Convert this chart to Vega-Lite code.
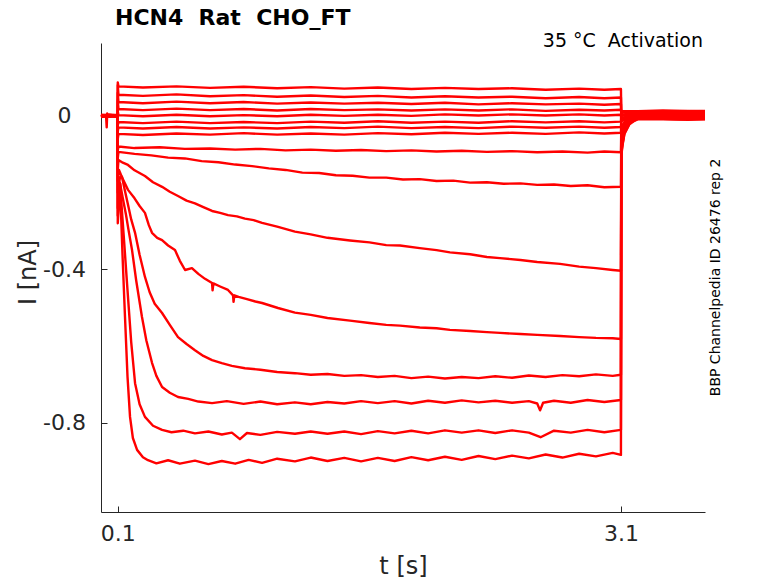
{
  "$schema": "https://vega.github.io/schema/vega-lite/v6.json",
  "width": 604,
  "height": 469,
  "autosize": "none",
  "padding": {"left": 101, "top": 43, "right": 73, "bottom": 71},
  "background": "white",
  "config": {"view": {"stroke": null}, "font": "DejaVu Sans"},
  "layer": [
    {
      "data": {"values": [
        {"k":1,"t":0,"i":0.003},{"k":1,"t":0.05,"i":0.002},{"k":1,"t":0.0995,"i":0.003},{"k":1,"t":0.1,"i":0.087},{"k":1,"t":0.104,"i":0.077},{"k":1,"t":0.25,"i":0.074},{"k":1,"t":0.45,"i":0.077},{"k":1,"t":0.65,"i":0.073},{"k":1,"t":0.85,"i":0.076},{"k":1,"t":1.05,"i":0.072},{"k":1,"t":1.25,"i":0.075},{"k":1,"t":1.45,"i":0.071},{"k":1,"t":1.65,"i":0.074},{"k":1,"t":1.85,"i":0.070},{"k":1,"t":2.05,"i":0.073},{"k":1,"t":2.25,"i":0.070},{"k":1,"t":2.45,"i":0.072},{"k":1,"t":2.65,"i":0.068},{"k":1,"t":2.85,"i":0.071},{"k":1,"t":3.0,"i":0.068},{"k":1,"t":3.099,"i":0.070},{"k":1,"t":3.101,"i":0.004},{"k":1,"t":3.2,"i":0.006},{"k":1,"t":3.35,"i":0.003},{"k":1,"t":3.5,"i":0.005},{"k":1,"t":3.6,"i":0.004},

        {"k":2,"t":0,"i":-0.002},{"k":2,"t":0.05,"i":0.001},{"k":2,"t":0.0995,"i":-0.001},{"k":2,"t":0.1,"i":0.08},{"k":2,"t":0.104,"i":0.055},{"k":2,"t":0.25,"i":0.052},{"k":2,"t":0.45,"i":0.056},{"k":2,"t":0.65,"i":0.051},{"k":2,"t":0.85,"i":0.054},{"k":2,"t":1.05,"i":0.050},{"k":2,"t":1.25,"i":0.053},{"k":2,"t":1.45,"i":0.049},{"k":2,"t":1.65,"i":0.052},{"k":2,"t":1.85,"i":0.048},{"k":2,"t":2.05,"i":0.051},{"k":2,"t":2.25,"i":0.048},{"k":2,"t":2.45,"i":0.050},{"k":2,"t":2.65,"i":0.046},{"k":2,"t":2.85,"i":0.049},{"k":2,"t":3.0,"i":0.046},{"k":2,"t":3.099,"i":0.048},{"k":2,"t":3.101,"i":0.001},{"k":2,"t":3.2,"i":0.002},{"k":2,"t":3.35,"i":0.0},{"k":2,"t":3.5,"i":0.002},{"k":2,"t":3.6,"i":0.001},

        {"k":3,"t":0,"i":0.001},{"k":3,"t":0.05,"i":-0.002},{"k":3,"t":0.0995,"i":0.0},{"k":3,"t":0.1,"i":0.06},{"k":3,"t":0.104,"i":0.036},{"k":3,"t":0.25,"i":0.033},{"k":3,"t":0.45,"i":0.037},{"k":3,"t":0.65,"i":0.033},{"k":3,"t":0.85,"i":0.036},{"k":3,"t":1.05,"i":0.032},{"k":3,"t":1.25,"i":0.035},{"k":3,"t":1.45,"i":0.032},{"k":3,"t":1.65,"i":0.034},{"k":3,"t":1.85,"i":0.031},{"k":3,"t":2.05,"i":0.034},{"k":3,"t":2.25,"i":0.030},{"k":3,"t":2.45,"i":0.033},{"k":3,"t":2.65,"i":0.030},{"k":3,"t":2.85,"i":0.032},{"k":3,"t":3.0,"i":0.029},{"k":3,"t":3.099,"i":0.031},{"k":3,"t":3.101,"i":-0.004},{"k":3,"t":3.2,"i":-0.002},{"k":3,"t":3.35,"i":-0.004},{"k":3,"t":3.5,"i":-0.001},{"k":3,"t":3.6,"i":-0.003},

        {"k":4,"t":0,"i":0.0},{"k":4,"t":0.05,"i":0.003},{"k":4,"t":0.0995,"i":0.001},{"k":4,"t":0.1,"i":0.04},{"k":4,"t":0.104,"i":0.018},{"k":4,"t":0.25,"i":0.015},{"k":4,"t":0.45,"i":0.019},{"k":4,"t":0.65,"i":0.015},{"k":4,"t":0.85,"i":0.018},{"k":4,"t":1.05,"i":0.014},{"k":4,"t":1.25,"i":0.018},{"k":4,"t":1.45,"i":0.015},{"k":4,"t":1.65,"i":0.017},{"k":4,"t":1.85,"i":0.014},{"k":4,"t":2.05,"i":0.017},{"k":4,"t":2.25,"i":0.014},{"k":4,"t":2.45,"i":0.017},{"k":4,"t":2.65,"i":0.013},{"k":4,"t":2.85,"i":0.016},{"k":4,"t":3.0,"i":0.014},{"k":4,"t":3.099,"i":0.016},{"k":4,"t":3.101,"i":0.009},{"k":4,"t":3.2,"i":0.010},{"k":4,"t":3.35,"i":0.008},{"k":4,"t":3.5,"i":0.011},{"k":4,"t":3.6,"i":0.009},

        {"k":5,"t":0,"i":-0.001},{"k":5,"t":0.03,"i":0.001},{"k":5,"t":0.034,"i":-0.03},{"k":5,"t":0.037,"i":0.006},{"k":5,"t":0.041,"i":0.0},{"k":5,"t":0.0995,"i":-0.002},{"k":5,"t":0.1,"i":0.012},{"k":5,"t":0.104,"i":0.002},{"k":5,"t":0.25,"i":-0.001},{"k":5,"t":0.45,"i":0.003},{"k":5,"t":0.65,"i":-0.001},{"k":5,"t":0.85,"i":0.002},{"k":5,"t":1.05,"i":-0.001},{"k":5,"t":1.25,"i":0.003},{"k":5,"t":1.45,"i":0.0},{"k":5,"t":1.65,"i":0.003},{"k":5,"t":1.85,"i":0.0},{"k":5,"t":2.05,"i":0.004},{"k":5,"t":2.25,"i":0.001},{"k":5,"t":2.45,"i":0.004},{"k":5,"t":2.65,"i":0.001},{"k":5,"t":2.85,"i":0.004},{"k":5,"t":3.0,"i":0.001},{"k":5,"t":3.099,"i":0.003},{"k":5,"t":3.101,"i":-0.006},{"k":5,"t":3.2,"i":-0.004},{"k":5,"t":3.35,"i":-0.006},{"k":5,"t":3.5,"i":-0.003},{"k":5,"t":3.6,"i":-0.005},

        {"k":6,"t":0,"i":0.002},{"k":6,"t":0.05,"i":-0.001},{"k":6,"t":0.0995,"i":0.001},{"k":6,"t":0.1,"i":-0.025},{"k":6,"t":0.104,"i":-0.016},{"k":6,"t":0.25,"i":-0.019},{"k":6,"t":0.45,"i":-0.015},{"k":6,"t":0.65,"i":-0.019},{"k":6,"t":0.85,"i":-0.016},{"k":6,"t":1.05,"i":-0.019},{"k":6,"t":1.25,"i":-0.015},{"k":6,"t":1.45,"i":-0.018},{"k":6,"t":1.65,"i":-0.014},{"k":6,"t":1.85,"i":-0.018},{"k":6,"t":2.05,"i":-0.015},{"k":6,"t":2.25,"i":-0.018},{"k":6,"t":2.45,"i":-0.014},{"k":6,"t":2.65,"i":-0.017},{"k":6,"t":2.85,"i":-0.014},{"k":6,"t":3.0,"i":-0.017},{"k":6,"t":3.099,"i":-0.015},{"k":6,"t":3.101,"i":0.012},{"k":6,"t":3.2,"i":0.012},{"k":6,"t":3.35,"i":0.014},{"k":6,"t":3.5,"i":0.012},{"k":6,"t":3.6,"i":0.013},

        {"k":7,"t":0,"i":-0.003},{"k":7,"t":0.05,"i":0.0},{"k":7,"t":0.0995,"i":-0.002},{"k":7,"t":0.1,"i":-0.04},{"k":7,"t":0.104,"i":-0.030},{"k":7,"t":0.25,"i":-0.033},{"k":7,"t":0.45,"i":-0.029},{"k":7,"t":0.65,"i":-0.033},{"k":7,"t":0.85,"i":-0.030},{"k":7,"t":1.05,"i":-0.033},{"k":7,"t":1.25,"i":-0.029},{"k":7,"t":1.45,"i":-0.032},{"k":7,"t":1.65,"i":-0.028},{"k":7,"t":1.85,"i":-0.032},{"k":7,"t":2.05,"i":-0.029},{"k":7,"t":2.25,"i":-0.032},{"k":7,"t":2.45,"i":-0.028},{"k":7,"t":2.65,"i":-0.031},{"k":7,"t":2.85,"i":-0.028},{"k":7,"t":3.0,"i":-0.031},{"k":7,"t":3.099,"i":-0.029},{"k":7,"t":3.101,"i":-0.012},{"k":7,"t":3.14,"i":-0.008},{"k":7,"t":3.3,"i":-0.007},{"k":7,"t":3.45,"i":-0.009},{"k":7,"t":3.6,"i":-0.008},

        {"k":8,"t":0,"i":0.001},{"k":8,"t":0.05,"i":0.003},{"k":8,"t":0.0995,"i":0.0},{"k":8,"t":0.1,"i":-0.06},{"k":8,"t":0.104,"i":-0.047},{"k":8,"t":0.25,"i":-0.050},{"k":8,"t":0.45,"i":-0.046},{"k":8,"t":0.65,"i":-0.049},{"k":8,"t":0.85,"i":-0.045},{"k":8,"t":1.05,"i":-0.049},{"k":8,"t":1.25,"i":-0.046},{"k":8,"t":1.45,"i":-0.049},{"k":8,"t":1.65,"i":-0.045},{"k":8,"t":1.85,"i":-0.048},{"k":8,"t":2.05,"i":-0.044},{"k":8,"t":2.25,"i":-0.047},{"k":8,"t":2.45,"i":-0.044},{"k":8,"t":2.65,"i":-0.047},{"k":8,"t":2.85,"i":-0.043},{"k":8,"t":3.0,"i":-0.046},{"k":8,"t":3.099,"i":-0.044},{"k":8,"t":3.101,"i":-0.015},{"k":8,"t":3.14,"i":0.004},{"k":8,"t":3.3,"i":0.006},{"k":8,"t":3.45,"i":0.005},{"k":8,"t":3.6,"i":0.006},

        {"k":9,"t":0,"i":-0.001},{"k":9,"t":0.05,"i":0.001},{"k":9,"t":0.0995,"i":-0.001},{"k":9,"t":0.1,"i":-0.09},{"k":9,"t":0.104,"i":-0.080},{"k":9,"t":0.2,"i":-0.084},{"k":9,"t":0.35,"i":-0.082},{"k":9,"t":0.5,"i":-0.086},{"k":9,"t":0.65,"i":-0.085},{"k":9,"t":0.8,"i":-0.088},{"k":9,"t":0.95,"i":-0.086},{"k":9,"t":1.1,"i":-0.090},{"k":9,"t":1.25,"i":-0.088},{"k":9,"t":1.4,"i":-0.091},{"k":9,"t":1.55,"i":-0.089},{"k":9,"t":1.7,"i":-0.092},{"k":9,"t":1.85,"i":-0.090},{"k":9,"t":2.0,"i":-0.093},{"k":9,"t":2.15,"i":-0.091},{"k":9,"t":2.3,"i":-0.094},{"k":9,"t":2.45,"i":-0.092},{"k":9,"t":2.6,"i":-0.095},{"k":9,"t":2.75,"i":-0.093},{"k":9,"t":2.9,"i":-0.096},{"k":9,"t":3.0,"i":-0.093},{"k":9,"t":3.099,"i":-0.095},{"k":9,"t":3.101,"i":-0.03},{"k":9,"t":3.13,"i":-0.008},{"k":9,"t":3.2,"i":-0.003},{"k":9,"t":3.4,"i":-0.002},{"k":9,"t":3.6,"i":-0.002},

        {"k":10,"t":0,"i":0.002},{"k":10,"t":0.05,"i":-0.001},{"k":10,"t":0.0995,"i":0.001},{"k":10,"t":0.1,"i":-0.11},{"k":10,"t":0.104,"i":-0.094},{"k":10,"t":0.2,"i":-0.099},{"k":10,"t":0.3,"i":-0.103},{"k":10,"t":0.4,"i":-0.109},{"k":10,"t":0.5,"i":-0.111},{"k":10,"t":0.6,"i":-0.118},{"k":10,"t":0.7,"i":-0.121},{"k":10,"t":0.8,"i":-0.127},{"k":10,"t":0.9,"i":-0.131},{"k":10,"t":1.0,"i":-0.137},{"k":10,"t":1.1,"i":-0.141},{"k":10,"t":1.2,"i":-0.148},{"k":10,"t":1.3,"i":-0.149},{"k":10,"t":1.4,"i":-0.155},{"k":10,"t":1.5,"i":-0.156},{"k":10,"t":1.6,"i":-0.161},{"k":10,"t":1.7,"i":-0.161},{"k":10,"t":1.8,"i":-0.166},{"k":10,"t":1.9,"i":-0.165},{"k":10,"t":2.0,"i":-0.170},{"k":10,"t":2.1,"i":-0.169},{"k":10,"t":2.2,"i":-0.174},{"k":10,"t":2.3,"i":-0.173},{"k":10,"t":2.4,"i":-0.177},{"k":10,"t":2.5,"i":-0.176},{"k":10,"t":2.6,"i":-0.180},{"k":10,"t":2.7,"i":-0.179},{"k":10,"t":2.8,"i":-0.183},{"k":10,"t":2.9,"i":-0.181},{"k":10,"t":3.0,"i":-0.186},{"k":10,"t":3.099,"i":-0.185},{"k":10,"t":3.101,"i":-0.045},{"k":10,"t":3.12,"i":-0.02},{"k":10,"t":3.16,"i":0.004},{"k":10,"t":3.25,"i":0.009},{"k":10,"t":3.4,"i":0.010},{"k":10,"t":3.6,"i":0.010},

        {"k":11,"t":0,"i":0.0},{"k":11,"t":0.05,"i":0.002},{"k":11,"t":0.0995,"i":0.0},{"k":11,"t":0.1,"i":-0.14},{"k":11,"t":0.104,"i":-0.115},{"k":11,"t":0.13,"i":-0.122},{"k":11,"t":0.161,"i":-0.128},{"k":11,"t":0.2,"i":-0.142},{"k":11,"t":0.262,"i":-0.157},{"k":11,"t":0.31,"i":-0.173},{"k":11,"t":0.364,"i":-0.185},{"k":11,"t":0.41,"i":-0.198},{"k":11,"t":0.459,"i":-0.209},{"k":11,"t":0.51,"i":-0.221},{"k":11,"t":0.56,"i":-0.228},{"k":11,"t":0.61,"i":-0.238},{"k":11,"t":0.662,"i":-0.248},{"k":11,"t":0.71,"i":-0.253},{"k":11,"t":0.757,"i":-0.259},{"k":11,"t":0.81,"i":-0.262},{"k":11,"t":0.858,"i":-0.268},{"k":11,"t":0.91,"i":-0.272},{"k":11,"t":0.96,"i":-0.279},{"k":11,"t":1.05,"i":-0.289},{"k":11,"t":1.156,"i":-0.302},{"k":11,"t":1.25,"i":-0.309},{"k":11,"t":1.35,"i":-0.318},{"k":11,"t":1.484,"i":-0.325},{"k":11,"t":1.6,"i":-0.330},{"k":11,"t":1.7,"i":-0.337},{"k":11,"t":1.782,"i":-0.338},{"k":11,"t":1.9,"i":-0.345},{"k":11,"t":2.0,"i":-0.350},{"k":11,"t":2.08,"i":-0.356},{"k":11,"t":2.2,"i":-0.361},{"k":11,"t":2.3,"i":-0.368},{"k":11,"t":2.378,"i":-0.371},{"k":11,"t":2.5,"i":-0.376},{"k":11,"t":2.6,"i":-0.381},{"k":11,"t":2.736,"i":-0.386},{"k":11,"t":2.85,"i":-0.393},{"k":11,"t":2.95,"i":-0.397},{"k":11,"t":3.05,"i":-0.402},{"k":11,"t":3.099,"i":-0.404},{"k":11,"t":3.101,"i":-0.06},{"k":11,"t":3.115,"i":-0.03},{"k":11,"t":3.14,"i":-0.012},{"k":11,"t":3.2,"i":-0.007},{"k":11,"t":3.35,"i":-0.006},{"k":11,"t":3.5,"i":-0.007},{"k":11,"t":3.6,"i":-0.006},

        {"k":12,"t":0,"i":-0.002},{"k":12,"t":0.05,"i":0.0},{"k":12,"t":0.0995,"i":-0.001},{"k":12,"t":0.1,"i":-0.17},{"k":12,"t":0.107,"i":-0.141},{"k":12,"t":0.13,"i":-0.165},{"k":12,"t":0.161,"i":-0.193},{"k":12,"t":0.2,"i":-0.215},{"k":12,"t":0.23,"i":-0.235},{"k":12,"t":0.262,"i":-0.253},{"k":12,"t":0.285,"i":-0.285},{"k":12,"t":0.304,"i":-0.305},{"k":12,"t":0.335,"i":-0.318},{"k":12,"t":0.364,"i":-0.324},{"k":12,"t":0.4,"i":-0.338},{"k":12,"t":0.441,"i":-0.350},{"k":12,"t":0.47,"i":-0.378},{"k":12,"t":0.501,"i":-0.402},{"k":12,"t":0.542,"i":-0.397},{"k":12,"t":0.58,"i":-0.412},{"k":12,"t":0.62,"i":-0.425},{"k":12,"t":0.662,"i":-0.436},{"k":12,"t":0.665,"i":-0.455},{"k":12,"t":0.67,"i":-0.437},{"k":12,"t":0.71,"i":-0.445},{"k":12,"t":0.757,"i":-0.454},{"k":12,"t":0.787,"i":-0.468},{"k":12,"t":0.79,"i":-0.485},{"k":12,"t":0.795,"i":-0.468},{"k":12,"t":0.82,"i":-0.472},{"k":12,"t":0.87,"i":-0.478},{"k":12,"t":0.92,"i":-0.484},{"k":12,"t":0.96,"i":-0.488},{"k":12,"t":1.055,"i":-0.501},{"k":12,"t":1.156,"i":-0.513},{"k":12,"t":1.25,"i":-0.519},{"k":12,"t":1.35,"i":-0.527},{"k":12,"t":1.484,"i":-0.534},{"k":12,"t":1.6,"i":-0.540},{"k":12,"t":1.7,"i":-0.545},{"k":12,"t":1.782,"i":-0.547},{"k":12,"t":1.9,"i":-0.552},{"k":12,"t":2.0,"i":-0.554},{"k":12,"t":2.08,"i":-0.558},{"k":12,"t":2.2,"i":-0.561},{"k":12,"t":2.3,"i":-0.564},{"k":12,"t":2.378,"i":-0.566},{"k":12,"t":2.5,"i":-0.569},{"k":12,"t":2.6,"i":-0.571},{"k":12,"t":2.736,"i":-0.574},{"k":12,"t":2.85,"i":-0.577},{"k":12,"t":2.95,"i":-0.579},{"k":12,"t":3.05,"i":-0.580},{"k":12,"t":3.099,"i":-0.582},{"k":12,"t":3.101,"i":-0.075},{"k":12,"t":3.11,"i":-0.05},{"k":12,"t":3.13,"i":-0.022},{"k":12,"t":3.17,"i":-0.006},{"k":12,"t":3.25,"i":0.002},{"k":12,"t":3.4,"i":0.003},{"k":12,"t":3.6,"i":0.003},

        {"k":13,"t":0,"i":0.001},{"k":13,"t":0.05,"i":-0.002},{"k":13,"t":0.0995,"i":0.0},{"k":13,"t":0.1,"i":-0.2},{"k":13,"t":0.113,"i":-0.16},{"k":13,"t":0.125,"i":-0.159},{"k":13,"t":0.14,"i":-0.19},{"k":13,"t":0.161,"i":-0.232},{"k":13,"t":0.18,"i":-0.27},{"k":13,"t":0.203,"i":-0.305},{"k":13,"t":0.23,"i":-0.362},{"k":13,"t":0.262,"i":-0.420},{"k":13,"t":0.29,"i":-0.46},{"k":13,"t":0.32,"i":-0.49},{"k":13,"t":0.364,"i":-0.514},{"k":13,"t":0.41,"i":-0.545},{"k":13,"t":0.459,"i":-0.577},{"k":13,"t":0.51,"i":-0.595},{"k":13,"t":0.56,"i":-0.611},{"k":13,"t":0.61,"i":-0.626},{"k":13,"t":0.662,"i":-0.637},{"k":13,"t":0.72,"i":-0.645},{"k":13,"t":0.78,"i":-0.652},{"k":13,"t":0.858,"i":-0.658},{"k":13,"t":0.95,"i":-0.662},{"k":13,"t":1.05,"i":-0.668},{"k":13,"t":1.156,"i":-0.671},{"k":13,"t":1.25,"i":-0.675},{"k":13,"t":1.35,"i":-0.673},{"k":13,"t":1.45,"i":-0.678},{"k":13,"t":1.55,"i":-0.676},{"k":13,"t":1.65,"i":-0.681},{"k":13,"t":1.75,"i":-0.678},{"k":13,"t":1.85,"i":-0.684},{"k":13,"t":1.95,"i":-0.680},{"k":13,"t":2.05,"i":-0.685},{"k":13,"t":2.15,"i":-0.681},{"k":13,"t":2.25,"i":-0.684},{"k":13,"t":2.35,"i":-0.679},{"k":13,"t":2.45,"i":-0.683},{"k":13,"t":2.55,"i":-0.677},{"k":13,"t":2.65,"i":-0.681},{"k":13,"t":2.75,"i":-0.676},{"k":13,"t":2.85,"i":-0.679},{"k":13,"t":2.95,"i":-0.674},{"k":13,"t":3.05,"i":-0.678},{"k":13,"t":3.099,"i":-0.675},{"k":13,"t":3.101,"i":-0.085},{"k":13,"t":3.11,"i":-0.055},{"k":13,"t":3.125,"i":-0.03},{"k":13,"t":3.16,"i":-0.005},{"k":13,"t":3.22,"i":0.008},{"k":13,"t":3.35,"i":0.012},{"k":13,"t":3.5,"i":0.013},{"k":13,"t":3.6,"i":0.012},

        {"k":14,"t":0,"i":-0.001},{"k":14,"t":0.05,"i":0.001},{"k":14,"t":0.0995,"i":-0.002},{"k":14,"t":0.1,"i":-0.24},{"k":14,"t":0.113,"i":-0.175},{"k":14,"t":0.13,"i":-0.215},{"k":14,"t":0.149,"i":-0.258},{"k":14,"t":0.165,"i":-0.30},{"k":14,"t":0.185,"i":-0.350},{"k":14,"t":0.21,"i":-0.43},{"k":14,"t":0.244,"i":-0.524},{"k":14,"t":0.27,"i":-0.585},{"k":14,"t":0.304,"i":-0.644},{"k":14,"t":0.33,"i":-0.678},{"k":14,"t":0.364,"i":-0.707},{"k":14,"t":0.41,"i":-0.722},{"k":14,"t":0.459,"i":-0.733},{"k":14,"t":0.52,"i":-0.738},{"k":14,"t":0.58,"i":-0.745},{"k":14,"t":0.662,"i":-0.749},{"k":14,"t":0.75,"i":-0.744},{"k":14,"t":0.85,"i":-0.751},{"k":14,"t":0.95,"i":-0.745},{"k":14,"t":1.05,"i":-0.752},{"k":14,"t":1.156,"i":-0.747},{"k":14,"t":1.25,"i":-0.752},{"k":14,"t":1.35,"i":-0.746},{"k":14,"t":1.45,"i":-0.750},{"k":14,"t":1.55,"i":-0.744},{"k":14,"t":1.65,"i":-0.749},{"k":14,"t":1.75,"i":-0.744},{"k":14,"t":1.85,"i":-0.750},{"k":14,"t":1.95,"i":-0.743},{"k":14,"t":2.05,"i":-0.748},{"k":14,"t":2.15,"i":-0.742},{"k":14,"t":2.25,"i":-0.747},{"k":14,"t":2.35,"i":-0.743},{"k":14,"t":2.45,"i":-0.748},{"k":14,"t":2.55,"i":-0.744},{"k":14,"t":2.6,"i":-0.750},{"k":14,"t":2.617,"i":-0.768},{"k":14,"t":2.635,"i":-0.748},{"k":14,"t":2.7,"i":-0.743},{"k":14,"t":2.8,"i":-0.748},{"k":14,"t":2.9,"i":-0.741},{"k":14,"t":3.0,"i":-0.746},{"k":14,"t":3.099,"i":-0.741},{"k":14,"t":3.101,"i":-0.095},{"k":14,"t":3.108,"i":-0.07},{"k":14,"t":3.12,"i":-0.04},{"k":14,"t":3.15,"i":-0.018},{"k":14,"t":3.2,"i":-0.009},{"k":14,"t":3.35,"i":-0.009},{"k":14,"t":3.5,"i":-0.010},{"k":14,"t":3.6,"i":-0.009},

        {"k":15,"t":0,"i":0.002},{"k":15,"t":0.05,"i":-0.001},{"k":15,"t":0.0995,"i":0.001},{"k":15,"t":0.1,"i":-0.26},{"k":15,"t":0.113,"i":-0.175},{"k":15,"t":0.135,"i":-0.31},{"k":15,"t":0.155,"i":-0.436},{"k":15,"t":0.18,"i":-0.59},{"k":15,"t":0.203,"i":-0.697},{"k":15,"t":0.23,"i":-0.752},{"k":15,"t":0.262,"i":-0.785},{"k":15,"t":0.31,"i":-0.808},{"k":15,"t":0.364,"i":-0.819},{"k":15,"t":0.42,"i":-0.825},{"k":15,"t":0.49,"i":-0.821},{"k":15,"t":0.56,"i":-0.828},{"k":15,"t":0.64,"i":-0.823},{"k":15,"t":0.72,"i":-0.831},{"k":15,"t":0.78,"i":-0.826},{"k":15,"t":0.828,"i":-0.843},{"k":15,"t":0.87,"i":-0.827},{"k":15,"t":0.95,"i":-0.832},{"k":15,"t":1.05,"i":-0.824},{"k":15,"t":1.156,"i":-0.829},{"k":15,"t":1.25,"i":-0.823},{"k":15,"t":1.35,"i":-0.829},{"k":15,"t":1.45,"i":-0.823},{"k":15,"t":1.55,"i":-0.830},{"k":15,"t":1.65,"i":-0.822},{"k":15,"t":1.75,"i":-0.828},{"k":15,"t":1.85,"i":-0.821},{"k":15,"t":1.95,"i":-0.828},{"k":15,"t":2.05,"i":-0.820},{"k":15,"t":2.15,"i":-0.826},{"k":15,"t":2.25,"i":-0.820},{"k":15,"t":2.35,"i":-0.827},{"k":15,"t":2.45,"i":-0.820},{"k":15,"t":2.55,"i":-0.826},{"k":15,"t":2.62,"i":-0.838},{"k":15,"t":2.7,"i":-0.821},{"k":15,"t":2.8,"i":-0.826},{"k":15,"t":2.9,"i":-0.819},{"k":15,"t":3.0,"i":-0.825},{"k":15,"t":3.099,"i":-0.819},{"k":15,"t":3.101,"i":-0.10},{"k":15,"t":3.108,"i":-0.075},{"k":15,"t":3.12,"i":-0.045},{"k":15,"t":3.15,"i":-0.02},{"k":15,"t":3.2,"i":-0.002},{"k":15,"t":3.3,"i":0.006},{"k":15,"t":3.45,"i":0.007},{"k":15,"t":3.6,"i":0.007},

        {"k":16,"t":0,"i":-0.001},{"k":16,"t":0.05,"i":0.002},{"k":16,"t":0.0995,"i":0.0},{"k":16,"t":0.1,"i":-0.28},{"k":16,"t":0.113,"i":-0.175},{"k":16,"t":0.128,"i":-0.36},{"k":16,"t":0.143,"i":-0.524},{"k":16,"t":0.158,"i":-0.68},{"k":16,"t":0.173,"i":-0.785},{"k":16,"t":0.19,"i":-0.84},{"k":16,"t":0.215,"i":-0.871},{"k":16,"t":0.25,"i":-0.89},{"k":16,"t":0.28,"i":-0.898},{"k":16,"t":0.33,"i":-0.906},{"k":16,"t":0.4,"i":-0.898},{"k":16,"t":0.47,"i":-0.907},{"k":16,"t":0.56,"i":-0.899},{"k":16,"t":0.64,"i":-0.908},{"k":16,"t":0.72,"i":-0.900},{"k":16,"t":0.8,"i":-0.907},{"k":16,"t":0.88,"i":-0.897},{"k":16,"t":0.96,"i":-0.905},{"k":16,"t":1.05,"i":-0.894},{"k":16,"t":1.156,"i":-0.901},{"k":16,"t":1.25,"i":-0.891},{"k":16,"t":1.35,"i":-0.900},{"k":16,"t":1.45,"i":-0.892},{"k":16,"t":1.55,"i":-0.901},{"k":16,"t":1.65,"i":-0.892},{"k":16,"t":1.75,"i":-0.900},{"k":16,"t":1.85,"i":-0.890},{"k":16,"t":1.95,"i":-0.898},{"k":16,"t":2.05,"i":-0.889},{"k":16,"t":2.15,"i":-0.897},{"k":16,"t":2.25,"i":-0.887},{"k":16,"t":2.35,"i":-0.895},{"k":16,"t":2.45,"i":-0.886},{"k":16,"t":2.55,"i":-0.893},{"k":16,"t":2.65,"i":-0.883},{"k":16,"t":2.75,"i":-0.891},{"k":16,"t":2.85,"i":-0.881},{"k":16,"t":2.95,"i":-0.888},{"k":16,"t":3.05,"i":-0.879},{"k":16,"t":3.099,"i":-0.884},{"k":16,"t":3.101,"i":-0.105},{"k":16,"t":3.108,"i":-0.078},{"k":16,"t":3.12,"i":-0.047},{"k":16,"t":3.15,"i":-0.022},{"k":16,"t":3.2,"i":-0.006},{"k":16,"t":3.3,"i":-0.001},{"k":16,"t":3.45,"i":0.0},{"k":16,"t":3.6,"i":0.0}
      ]},
      "mark": {"type": "line", "color": "#ff0000", "strokeWidth": 2.4, "strokeJoin": "round"},
      "encoding": {
        "x": {
          "field": "t",
          "type": "quantitative",
          "scale": {"domain": [0, 3.6], "nice": false, "zero": false},
          "axis": {
            "values": [0.1, 3.1],
            "labelExpr": "'' + datum.value",
            "labelFont": "DejaVu Sans",
            "labelFontSize": 22,
            "labelColor": "#262626",
            "labelBaseline": "top",
            "labelPadding": 17,
            "labelFlush": false,
            "tickSize": -6,
            "tickColor": "#262626",
            "domainColor": "#262626",
            "grid": false,
            "title": "t [s]",
            "titleFont": "DejaVu Sans",
            "titleFontSize": 24,
            "titleFontWeight": "normal",
            "titleColor": "#262626",
            "titleX": 302,
            "titleY": 54,
            "titleAlign": "center",
            "titleBaseline": "middle"
          }
        },
        "y": {
          "field": "i",
          "type": "quantitative",
          "scale": {"domain": [-1.033, 0.19], "nice": false, "zero": false},
          "axis": {
            "values": [-0.8, -0.4, 0],
            "labelExpr": "'' + datum.value",
            "labelFont": "DejaVu Sans",
            "labelFontSize": 22,
            "labelColor": "#262626",
            "labelAlign": "center",
            "labelBaseline": "middle",
            "labelPadding": 43,
            "labelFlush": false,
            "tickSize": -6,
            "tickColor": "#262626",
            "domainColor": "#262626",
            "grid": false,
            "title": "I [nA]",
            "titleFont": "DejaVu Sans",
            "titleFontSize": 24,
            "titleFontWeight": "normal",
            "titleColor": "#262626",
            "titleAngle": 270,
            "titleX": -73,
            "titleY": 229,
            "titleAlign": "center",
            "titleBaseline": "middle"
          }
        },
        "detail": {"field": "k", "type": "nominal"}
      }
    },
    {
      "data": {"values": [{"label": "HCN4 \u00a0Rat \u00a0CHO_FT"}]},
      "mark": {"type": "text", "align": "left", "baseline": "middle", "font": "DejaVu Sans", "fontSize": 22, "fontWeight": "bold", "color": "#000000"},
      "encoding": {
        "x": {"datum": 0.0834, "type": "quantitative", "scale": {"domain": [0, 3.6], "nice": false, "zero": false}},
        "y": {"datum": 0.2557, "type": "quantitative", "scale": {"domain": [-1.033, 0.19], "nice": false, "zero": false}},
        "text": {"field": "label"}
      }
    },
    {
      "data": {"values": [{"label": "35 °C \u00a0Activation"}]},
      "mark": {"type": "text", "align": "right", "baseline": "middle", "font": "DejaVu Sans", "fontSize": 19, "color": "#000000"},
      "encoding": {
        "x": {"datum": 3.588, "type": "quantitative", "scale": {"domain": [0, 3.6], "nice": false, "zero": false}},
        "y": {"datum": 0.1957, "type": "quantitative", "scale": {"domain": [-1.033, 0.19], "nice": false, "zero": false}},
        "text": {"field": "label"}
      }
    },
    {
      "data": {"values": [{"label": "BBP Channelpedia ID 26476 rep 2"}]},
      "mark": {"type": "text", "align": "center", "baseline": "middle", "angle": 270, "font": "DejaVu Sans", "fontSize": 14, "color": "#000000"},
      "encoding": {
        "x": {"datum": 3.6655, "type": "quantitative", "scale": {"domain": [0, 3.6], "nice": false, "zero": false}},
        "y": {"datum": -0.4214, "type": "quantitative", "scale": {"domain": [-1.033, 0.19], "nice": false, "zero": false}},
        "text": {"field": "label"}
      }
    }
  ]
}
